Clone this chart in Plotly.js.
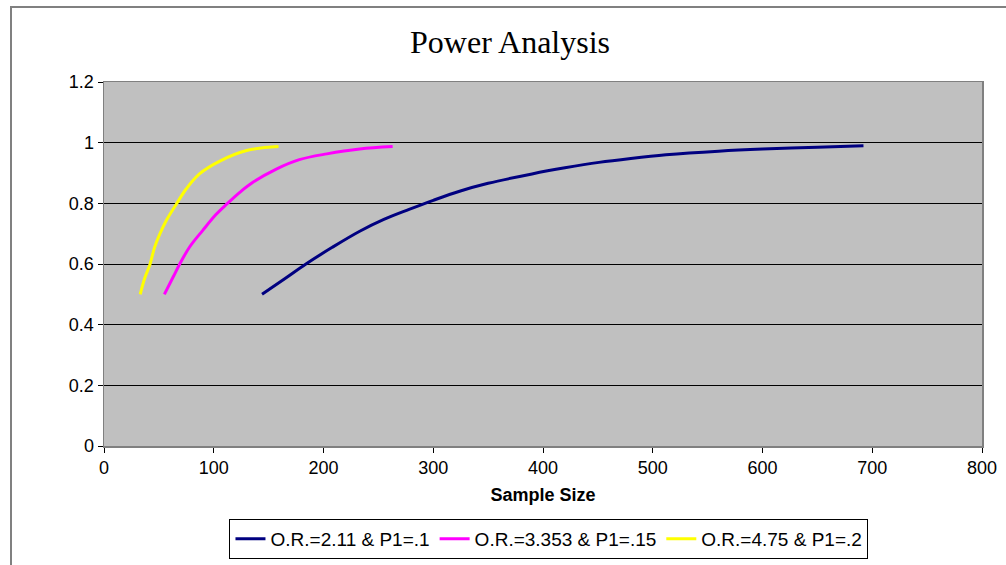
<!DOCTYPE html>
<html>
<head>
<meta charset="utf-8">
<script src="https://cdn.plot.ly/plotly-3.0.1.min.js"></script>
<style>
html,body{margin:0;padding:0;background:#fff;overflow:hidden;}
#frame{position:absolute;left:10px;top:6px;width:1100px;height:700px;border-left:2px solid #808080;border-top:2px solid #808080;}
#chart{position:absolute;left:0;top:0;width:1006px;height:565px;}
</style>
</head>
<body>
<div id="frame"></div>
<div id="chart"></div>
<script>
const navyX = [144,165,184,208,233,255,278,300,324,350,390,420,451,480,512,560,600,650,692];
const navyY = [0.50,0.552,0.60,0.655,0.708,0.747,0.78,0.81,0.84,0.866,0.897,0.917,0.935,0.948,0.96,0.972,0.979,0.985,0.99];
const magX = [55,63,69,78,90,102,112,124,136,157,178,203,233,263];
const magY = [0.50,0.557,0.60,0.656,0.711,0.763,0.798,0.837,0.87,0.913,0.944,0.963,0.979,0.987];
const yelX = [33,37,42,46,51,57,66,75,87,106,130,159];
const yelY = [0.50,0.552,0.60,0.654,0.70,0.745,0.798,0.848,0.897,0.94,0.974,0.987];
const names = ['O.R.=2.11 & P1=.1','O.R.=3.353 & P1=.15','O.R.=4.75 & P1=.2'];
const titleText = 'Power Analysis';
const xTitle = 'Sample Size';

const traces = [
  {x:navyX,y:navyY,name:names[0],mode:'lines',line:{color:'#000080',width:3,shape:'spline',smoothing:1}},
  {x:magX,y:magY,name:names[1],mode:'lines',line:{color:'#FF00FF',width:3,shape:'spline',smoothing:1}},
  {x:yelX,y:yelY,name:names[2],mode:'lines',line:{color:'#FFFF00',width:3,shape:'spline',smoothing:1}}
];
const layout = {
  width:1006,height:565,
  margin:{l:104,r:24,t:82,b:119},
  paper_bgcolor:'rgba(0,0,0,0)',
  plot_bgcolor:'#C0C0C0',
  font:{family:'Liberation Sans, Arial, sans-serif',size:18,color:'#000'},
  title:{text:titleText,font:{family:'Liberation Serif, Times New Roman, serif',size:32,color:'#000'},x:0.507,xanchor:'center',y:0.926,yanchor:'middle',xref:'container',yref:'container'},
  xaxis:{range:[0,800],dtick:100,tick0:0,showgrid:false,zeroline:false,showline:true,mirror:true,linecolor:'#808080',linewidth:1.5,automargin:false,
    ticks:'outside',ticklen:5,tickcolor:'#000',tickfont:{size:18},
    title:{text:'<b>'+xTitle+'</b>',font:{size:18},standoff:11}},
  yaxis:{range:[0,1.2],dtick:0.2,tick0:0,showgrid:true,gridcolor:'#000',gridwidth:1,zeroline:false,showline:true,mirror:true,linecolor:'#808080',linewidth:1.5,automargin:false,
    ticks:'outside',ticklen:5,tickcolor:'#000',tickfont:{size:18}},
  showlegend:true,
  legend:{orientation:'h',x:0.5457,xref:'container',xanchor:'center',y:0.0815,yref:'container',yanchor:'top',bordercolor:'#000',borderwidth:1,bgcolor:'#fff',font:{size:19},tracegroupgap:0,itemwidth:30}
};
Plotly.newPlot('chart',traces,layout,{displayModeBar:false,staticPlot:true});
</script>
</body>
</html>
